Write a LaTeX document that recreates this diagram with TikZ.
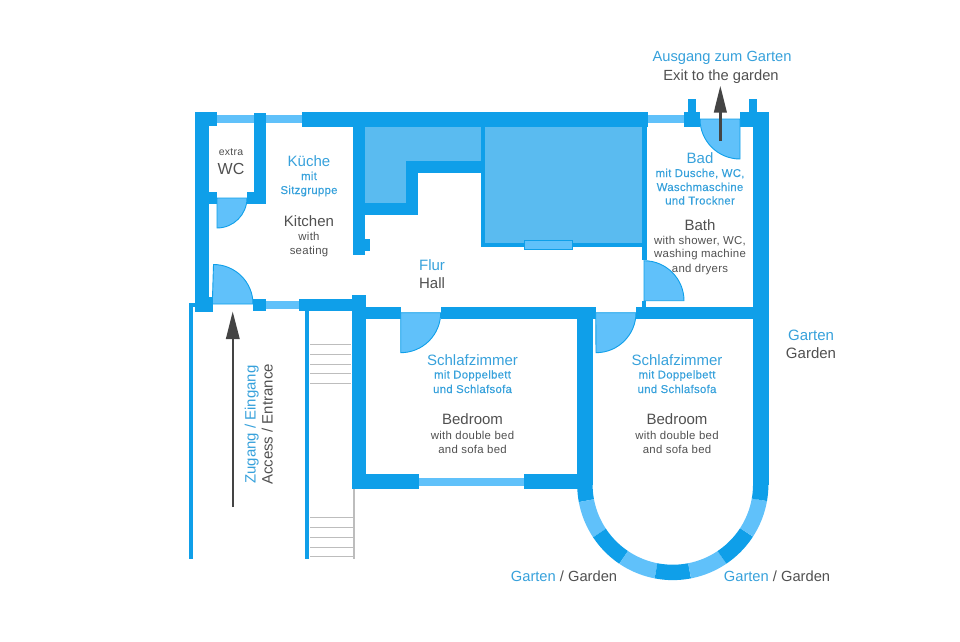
\documentclass[tikz,border=0pt]{standalone}
\usepackage{fontspec}
\setmainfont{Liberation Sans}
\newfontfamily\smallgrey[LetterSpace=2.5]{Liberation Sans}
\newfontfamily\smallblue[LetterSpace=2.5,FakeBold=0.25]{Liberation Sans}
\definecolor{wallc}{HTML}{0F9FE9}
\definecolor{roomc}{HTML}{5ABBF0}
\definecolor{winc}{HTML}{60C1FA}
\definecolor{bluet}{HTML}{37A1DB}
\definecolor{greyt}{HTML}{505050}
\definecolor{stairc}{HTML}{BDBDBD}
\definecolor{arrowc}{HTML}{444444}
\tikzset{
  wall/.style={fill=wallc},
  room/.style={fill=roomc},
  win/.style={fill=winc},
  door/.style={fill=winc,draw=wallc,line width=0.9pt},
  stairline/.style={draw=stairc,line width=1.2pt},
  walkarrow/.style={draw=arrowc,line width=2.4pt},
  walkhead/.style={fill=arrowc},
  txt/.style={inner sep=0pt,align=center,anchor=center},
  big/.style={txt,font=\fontsize{15}{15}\selectfont,text height=12pt,text depth=1pt},
  small/.style={txt,text height=9pt,text depth=1pt},
  bluebig/.style={big,text=bluet},
  greybig/.style={big,text=greyt},
  bluesmall/.style={small,text=bluet,font=\smallblue\fontsize{11.4}{11.4}\selectfont},
  greysmall/.style={small,text=greyt,font=\smallgrey\fontsize{11.4}{11.4}\selectfont},
  curve/.style={line width=15.4pt,line cap=butt,line join=round}
}
\begin{document}
\begin{tikzpicture}[x=1pt,y=-1pt]
\useasboundingbox (0,0) rectangle (960,641);
% rooms filled
\fill[room] (365,126) rectangle (406,204);
\fill[room] (405,126) rectangle (481,162);
\fill[room] (485,126) rectangle (642,243);
% windows
\fill[win] (217,115) rectangle (254,123);
\fill[win] (266,115) rectangle (302,123);
\fill[win] (648,115) rectangle (684,123);
\fill[win] (266,301) rectangle (299,309);
\fill[win] (419,478) rectangle (524,486);
% walls
\fill[wall] (195,112) rectangle (209.3,312);
\fill[wall] (195,112) rectangle (217,126);
\fill[wall] (195,297) rectangle (213,312);
\fill[wall] (254,113) rectangle (266,204);
\fill[wall] (247,192) rectangle (266,204);
\fill[wall] (209,192) rectangle (217,204);
\fill[wall] (302,112) rectangle (648,126.5);
\fill[wall] (352.7,126) rectangle (365,255);
\fill[wall] (365,239) rectangle (369.5,250.7);
\fill[wall] (405.7,161) rectangle (418,215);
\fill[wall] (365,203) rectangle (418,215);
\fill[wall] (406,161) rectangle (485,173);
\fill[wall] (481,126) rectangle (485.3,247);
\fill[wall] (481,243) rectangle (646,247);
\fill[wall] (641.7,126) rectangle (646.7,260);
\fill[wall] (642,301) rectangle (646,307);
\fill[wall] (684,112) rectangle (700,127);
\fill[wall] (688,99) rectangle (696,112);
\fill[wall] (740,112) rectangle (769,127);
\fill[wall] (749.3,99) rectangle (757.3,112);
\fill[wall] (752.9,112) rectangle (768.7,484.5);
\fill[wall] (636,306.7) rectangle (753,318.5);
\fill[wall] (440.7,306.7) rectangle (596,318.5);
\fill[wall] (366,306.7) rectangle (400.5,318.5);
\fill[wall] (351.5,295) rectangle (366,489);
\fill[wall] (298.7,299.3) rectangle (352,311);
\fill[wall] (253.3,299) rectangle (266,311);
\fill[wall] (189,302.7) rectangle (193.3,559.3);
\fill[wall] (189,302.7) rectangle (195,306.5);
\fill[wall] (305,311) rectangle (309.3,559.3);
\fill[wall] (352,474.3) rectangle (419.3,489);
\fill[wall] (523.5,474.3) rectangle (579,489);
\fill[wall] (577.1,318) rectangle (592.5,484.5);
% small window in the hall wall
\draw[win,draw=wallc,line width=1pt] (524.8,240.5) rectangle (572,249.5);
% bay window
\foreach \a/\b/\c in {-0.5/10.6/wallc,10.6/33.5/winc,33.5/56/wallc,56/79/winc,79/101/wallc,101/124/winc,124/147/wallc,147/170/winc,170/180.5/wallc}{
  \draw[curve,draw=\c] plot[domain=\a:\b,samples=30] ({672.8-87.9*cos(\x)},{484.5+87.9*sin(\x)});
}
% doors
\draw[door] (217,198) -- (247,198) arc[start angle=0,end angle=90,radius=30] -- cycle;
\draw[door] (212.3,304) -- (253,304) arc[start angle=0,end angle=-90,radius=39.5] -- cycle;
\draw[door] (700,119) arc[start angle=180,end angle=90,radius=40] -- (740,119) -- cycle;
\draw[door] (644,300.7) -- (684,300.7) arc[start angle=0,end angle=-90,radius=40] -- cycle;
\draw[door] (400.7,312.7) -- (440.7,312.7) arc[start angle=0,end angle=90,radius=40] -- cycle;
\draw[door] (595.7,312.7) -- (636,312.7) arc[start angle=0,end angle=90,radius=40] -- cycle;
% stairs
\foreach \y in {344.5,354.5,364.5,373.5,383.5}{\draw[stairline] (310,\y) -- (351,\y);}
\foreach \y in {517.5,527.5,537.5,547.5,556.5}{\draw[stairline] (310,\y) -- (354,\y);}
\draw[stairline] (354,489) -- (354,559);
% arrows
\coordinate (accessA) at (232.7,507);
\coordinate (accessB) at (232.7,335);
\draw[walkarrow] (accessA) -- (accessB);
\fill[walkhead] (232.7,311.7) -- (239.8,339) -- (225.8,339) -- cycle;
\coordinate (exitA) at (720.3,141);
\coordinate (exitB) at (720.3,108);
\draw[walkarrow] (exitA) -- (exitB);
\fill[walkhead] (720.3,86) -- (727,112.7) -- (713.7,112.7) -- cycle;
% labels
\node[bluebig,font=\fontsize{14.7}{14.7}\selectfont] (exitde) at (722,56) {Ausgang zum Garten};
\node[greybig,font=\fontsize{14.7}{14.7}\selectfont] (exiten) at (721,75) {Exit to the garden};
\node[greysmall,font=\smallgrey\fontsize{10.5}{10.5}\selectfont] (wcextra) at (231,151.5) {extra};
\node[greybig,font=\fontsize{16}{16}\selectfont] (wc) at (231,168.5) {WC};
\node[bluebig] (kuechede) at (309,161) {Küche};
\node[bluesmall] (kmit) at (309,176) {mit};
\node[bluesmall] (ksitz) at (309,190) {Sitzgruppe};
\node[greybig] (kitchen) at (309,220.5) {Kitchen};
\node[greysmall] (kwith) at (309,236) {with};
\node[greysmall] (kseat) at (309,250) {seating};
\node[bluebig] (flur) at (432,265) {Flur};
\node[greybig] (hall) at (432,283) {Hall};
\node[bluebig] (bad) at (700,158) {Bad};
\node[bluesmall] (b1) at (700,173) {mit Dusche, WC,};
\node[bluesmall] (b2) at (700,187) {Waschmaschine};
\node[bluesmall] (b3) at (700,200.5) {und Trockner};
\node[greybig] (bath) at (700,225) {Bath};
\node[greysmall] (b4) at (700,240) {with shower, WC,};
\node[greysmall] (b5) at (700,253.5) {washing machine};
\node[greysmall] (b6) at (700,268) {and dryers};
\node[bluebig] (sa) at (472.5,360) {Schlafzimmer};
\node[bluesmall] (sa1) at (472.5,374.5) {mit Doppelbett};
\node[bluesmall] (sa2) at (472.5,389) {und Schlafsofa};
\node[greybig] (sa3) at (472.5,419) {Bedroom};
\node[greysmall] (sa4) at (472.5,435) {with double bed};
\node[greysmall] (sa5) at (472.5,449) {and sofa bed};
\node[bluebig] (sb) at (677,360) {Schlafzimmer};
\node[bluesmall] (sb1) at (677,374.5) {mit Doppelbett};
\node[bluesmall] (sb2) at (677,389) {und Schlafsofa};
\node[greybig] (sb3) at (677,419) {Bedroom};
\node[greysmall] (sb4) at (677,435) {with double bed};
\node[greysmall] (sb5) at (677,449) {and sofa bed};
\node[bluebig] (gr1) at (811,335) {Garten};
\node[greybig] (gr2) at (811,353) {Garden};
\node[greybig,font=\fontsize{14.7}{14.7}\selectfont] (gl) at (564,576) {\textcolor{bluet}{Garten} / Garden};
\node[greybig,font=\fontsize{14.7}{14.7}\selectfont] (gm) at (777,576) {\textcolor{bluet}{Garten} / Garden};
\node[bluebig,rotate=90] (zug) at (250,424.5) {Zugang / Eingang};
\node[greybig,rotate=90] (acc) at (267,424.5) {Access / Entrance};
\end{tikzpicture}
\end{document}
